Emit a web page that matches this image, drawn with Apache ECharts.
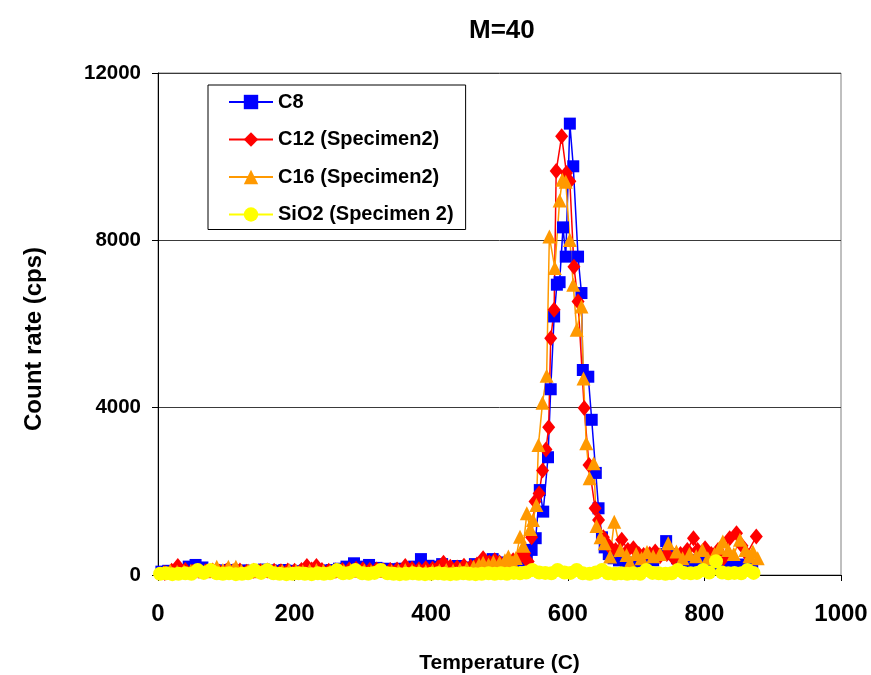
<!DOCTYPE html>
<html><head><meta charset="utf-8">
<script src="https://cdn.jsdelivr.net/npm/echarts@6/dist/echarts.min.js"></script>
<style>html,body{margin:0;padding:0;background:#fff}#c{width:871px;height:675px}</style>
</head><body><div id="c"></div>
<script>
const titleText = 'M=40';
const xName = 'Temperature (C)';
const yName = 'Count rate (cps)';
const seriesNames = ['C8', 'C12 (Specimen2)', 'C16 (Specimen2)', 'SiO2 (Specimen 2)'];
const xTicks = [0, 200, 400, 600, 800, 1000];
const yTicks = [0, 4000, 8000, 12000];

const c8 = [[5,80],[15,100],[25,90],[35,120],[45,200],[55,240],[65,180],[75,120],[85,110],[95,100],[105,120],[115,90],[125,110],[135,100],[145,120],[155,130],[165,110],[175,100],[185,120],[195,100],[205,90],[215,110],[225,120],[235,100],[245,110],[255,120],[265,150],[276,200],[287,280],[298,200],[309,240],[320,170],[332,150],[343,140],[355,150],[365,140],[375,200],[385,380],[396,220],[406,200],[416,260],[428,190],[439,215],[450,180],[464,260],[476,230],[490,380],[500,300],[510,260],[520,330],[530,350],[540,440],[547,600],[553,880],[559,2030],[564,1515],[571,2815],[575,4440],[580,6180],[584,6940],[588,7000],[593,8310],[597,7610],[603,10790],[608,9770],[615,7610],[620,6740],[622,4900],[630,4740],[635,3710],[641,2440],[645,1595],[650,900],[654,660],[660,500],[667,400],[675,350],[685,300],[695,250],[705,300],[715,400],[725,350],[735,500],[744,810],[752,500],[760,400],[770,350],[780,300],[790,350],[800,300],[810,250],[820,300],[830,250],[840,300],[850,250],[860,200],[870,200]];

const c12 = [[10,50],[20,100],[29,215],[40,120],[50,80],[60,100],[70,90],[80,110],[90,80],[100,100],[110,90],[120,110],[130,80],[140,100],[150,90],[160,110],[170,100],[180,90],[190,110],[200,100],[210,120],[218,215],[225,130],[232,215],[240,120],[250,100],[260,110],[270,120],[280,130],[290,150],[300,140],[310,120],[320,130],[330,110],[340,120],[350,130],[362,215],[372,150],[382,140],[392,160],[402,150],[410,180],[418,290],[428,200],[438,180],[448,220],[458,200],[467,250],[476,400],[485,300],[493,350],[500,300],[510,250],[520,350],[530,450],[537,520],[542,320],[547,900],[552,1755],[558,1950],[563,2500],[568,3000],[572,3530],[575,5660],[580,6340],[583,9660],[591,10490],[598,9610],[603,9410],[609,7370],[615,6540],[624,3990],[631,2630],[640,1595],[645,1315],[652,900],[660,700],[670,600],[679,840],[688,600],[696,640],[704,500],[711,480],[720,500],[728,560],[735,450],[745,500],[755,400],[765,500],[775,600],[784,880],[790,600],[801,640],[810,500],[820,600],[828,400],[837,880],[847,1000],[855,700],[862,500],[876,920]];

const c16 = [[8,60],[18,100],[28,80],[38,90],[48,100],[58,120],[68,90],[78,110],[86,200],[95,120],[103,200],[110,120],[114,200],[122,100],[132,110],[142,90],[152,100],[162,110],[172,90],[182,100],[192,120],[202,100],[212,90],[222,110],[232,120],[242,100],[252,90],[262,110],[272,100],[282,120],[292,100],[302,110],[312,90],[322,100],[332,110],[342,90],[352,100],[362,120],[372,100],[382,110],[392,90],[402,100],[412,110],[422,120],[432,100],[442,130],[452,150],[462,200],[470,250],[476,290],[484,250],[491,310],[500,300],[508,350],[513,440],[519,300],[524,405],[530,915],[535,700],[540,1475],[545,1100],[549,1315],[554,1675],[557,3110],[563,4120],[569,4760],[573,8090],[581,7340],[588,8950],[592,9450],[597,9400],[603,8010],[608,6940],[613,5860],[620,6420],[623,4700],[627,3150],[632,2310],[638,2670],[642,1170],[648,900],[654,760],[662,440],[668,1275],[677,600],[686,480],[691,290],[700,500],[708,400],[716,550],[725,450],[735,500],[747,760],[759,560],[768,400],[778,500],[788,450],[797,600],[805,400],[815,500],[822,650],[827,800],[835,600],[843,500],[852,840],[860,600],[866,450],[871,560],[878,400]];

const sio2 = [[3,30],[12,40],[21,20],[30,30],[40,40],[49,30],[58,120],[67,50],[77,120],[86,40],[95,30],[104,40],[114,20],[123,30],[132,40],[141,120],[151,50],[160,120],[169,40],[178,30],[188,20],[197,30],[206,40],[215,30],[225,20],[234,40],[243,30],[252,40],[262,120],[271,40],[280,50],[289,120],[299,40],[308,30],[317,50],[326,120],[336,40],[345,30],[354,20],[363,30],[373,40],[382,30],[391,20],[400,30],[410,40],[419,30],[428,20],[437,30],[447,40],[456,30],[465,20],[474,30],[484,40],[493,30],[502,40],[511,30],[521,50],[530,40],[539,60],[548,120],[558,60],[567,50],[576,40],[585,120],[595,60],[604,50],[613,120],[622,40],[632,30],[641,60],[650,120],[659,40],[669,30],[678,40],[687,30],[696,40],[706,30],[715,120],[724,50],[733,40],[743,30],[752,40],[761,120],[770,50],[780,40],[789,50],[798,120],[807,60],[817,330],[826,60],[835,40],[844,50],[854,40],[863,120],[872,50]];

const FONT = 'Liberation Sans, Arial, sans-serif';
const chart = echarts.init(document.getElementById('c'), null, {renderer: 'canvas'});

function mk(name, data, color, symbol, size) {
  return {
    name: name, type: 'line', data: data, symbol: symbol, symbolSize: size,
    showAllSymbol: true, animation: false,
    lineStyle: {color: color, width: 1.5},
    itemStyle: {color: color, borderWidth: 0},
    emphasis: {disabled: true}
  };
}

chart.setOption({
  backgroundColor: '#ffffff',
  animation: false,
  title: {
    text: titleText, left: 464, top: 13,
    textStyle: {fontFamily: FONT, fontWeight: 'bold', fontSize: 26, color: '#000'}
  },
  legend: {
    orient: 'vertical', left: 208, top: 85,
    padding: [7, 12, 5, 20],
    itemWidth: 44, itemHeight: 18, itemGap: 17.5,
    borderColor: '#000', borderWidth: 1, backgroundColor: '#fff',
    textStyle: {fontFamily: FONT, fontWeight: 'bold', fontSize: 20, color: '#000', lineHeight: 18},
    data: seriesNames
  },
  grid: {left: 158, right: 30, top: 73, bottom: 100, outerBoundsMode: 'none', containLabel: false, show: true, borderColor: '#808080', borderWidth: 1, backgroundColor: 'transparent'},
  xAxis: {
    type: 'value', min: xTicks[0], max: xTicks[xTicks.length - 1], interval: 200,
    name: xName, nameLocation: 'middle', nameGap: 78,
    nameTextStyle: {fontFamily: FONT, fontWeight: 'bold', fontSize: 21, color: '#000'},
    axisLine: {show: true, onZero: false, lineStyle: {color: '#000', width: 1}},
    axisTick: {show: true, inside: false, length: 6, lineStyle: {color: '#000'}},
    axisLabel: {margin: 27, fontFamily: FONT, fontWeight: 'bold', fontSize: 24, color: '#000', formatter: v => String(v)},
    splitLine: {show: false}
  },
  yAxis: {
    type: 'value', min: yTicks[0], max: yTicks[yTicks.length - 1], interval: 4000,
    name: yName, nameLocation: 'middle', nameGap: 112,
    nameTextStyle: {fontFamily: FONT, fontWeight: 'bold', fontSize: 24, color: '#000', padding: [0, 30, 0, 0]},
    axisLine: {show: true, lineStyle: {color: '#000', width: 1}},
    axisTick: {show: true, inside: false, length: 6, lineStyle: {color: '#000'}},
    axisLabel: {margin: 17, fontFamily: FONT, fontWeight: 'bold', fontSize: 20.5, color: '#000', formatter: v => String(v)},
    splitLine: {show: true, lineStyle: {color: '#3a3a3a', width: 1}}
  },
  series: [
    mk(seriesNames[0], c8, '#0000ff', 'rect', 12),
    mk(seriesNames[1], c12, '#ff0000', 'diamond', [13, 16]),
    mk(seriesNames[2], c16, '#ff9900', 'triangle', 14),
    mk(seriesNames[3], sio2, '#ffff00', 'circle', 14)
  ]
});
</script></body></html>
